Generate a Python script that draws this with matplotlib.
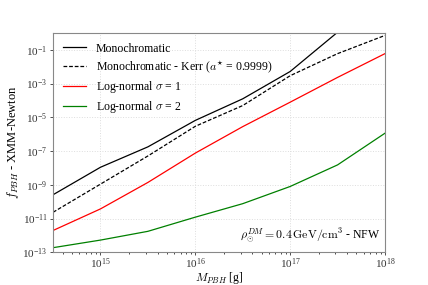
import matplotlib

matplotlib.use("Agg")
import matplotlib.pyplot as plt
import numpy as np

plt.rcParams["font.family"] = ["Liberation Serif", "DejaVu Serif"]
plt.rcParams["mathtext.fontset"] = "cm"

# PBH mass grid (g) and XMM-Newton bounds on f_PBH (log10)
log_mass = [14.5, 15.0, 15.5, 16.0, 16.5, 17.0, 17.5, 18.0]
mono = [-9.59, -7.96, -6.75, -5.18, -3.90, -2.28, 0.05, 2.0]
mono_kerr = [-10.63, -8.96, -7.29, -5.53, -4.30, -2.53, -1.22, -0.14]
lognorm_s1 = [-11.71, -10.43, -8.86, -7.12, -5.55, -4.10, -2.63, -1.22]
lognorm_s2 = [-12.73, -12.28, -11.76, -10.92, -10.12, -9.10, -7.82, -5.94]

labels = ["Monochromatic",
          r"Monochromatic - Kerr ($a^{\star}$ = 0.9999)",
          r"Log-normal $\sigma$ = 1",
          r"Log-normal $\sigma$ = 2"]

m = 10.0 ** np.array(log_mass)

fig = plt.figure(figsize=(4.28, 2.85), dpi=100)
ax = fig.add_axes([0.124, 0.115, 0.7755, 0.769])

ax.plot(m, 10.0 ** np.array(mono), color="k", lw=0.9, label=labels[0])
ax.plot(m, 10.0 ** np.array(mono_kerr), color="k", lw=0.9, ls=(0, (3, 1.5)),
        label=labels[1])
ax.plot(m, 10.0 ** np.array(lognorm_s1), color="red", lw=0.9, label=labels[2])
ax.plot(m, 10.0 ** np.array(lognorm_s2), color="green", lw=0.9, label=labels[3])

ax.set_xscale("log")
ax.set_yscale("log")
ax.set_xlim(10 ** 14.5, 1e18)
ax.set_ylim(1e-13, 1)
ax.set_yticks([10.0 ** k for k in range(-13, 0, 2)])
ax.yaxis.set_minor_locator(matplotlib.ticker.NullLocator())
ax.tick_params(labelsize=8, colors="#333", length=2.5, width=0.6, pad=1.5)
ax.tick_params(axis="x", pad=0.5)
ax.tick_params(which="minor", length=1.5, width=0.5)
ax.grid(True, which="major", color="#ddd", ls=":", lw=0.7)
for s in ax.spines.values():
    s.set_color("#888")
    s.set_linewidth(0.8)

ax.set_xlabel(r"$M_{PBH}$ [g]", fontsize=8.5)
ax.xaxis.set_label_coords(0.5, -0.08)
ax.set_ylabel(r"$f_{PBH}$ - XMM-Newton", fontsize=9, labelpad=1)

ax.legend(loc="upper left", frameon=False, fontsize=8.5, labelspacing=0.35,
          handlelength=2.0, borderaxespad=0.4)
ax.text(0.985, 0.035, r"$\rho_{\odot}^{DM} = 0.4\,\mathrm{GeV/cm^3}$ - NFW",
        transform=ax.transAxes, ha="right", va="bottom", fontsize=8.5)

fig.savefig("out.png", dpi=100, facecolor="white")
